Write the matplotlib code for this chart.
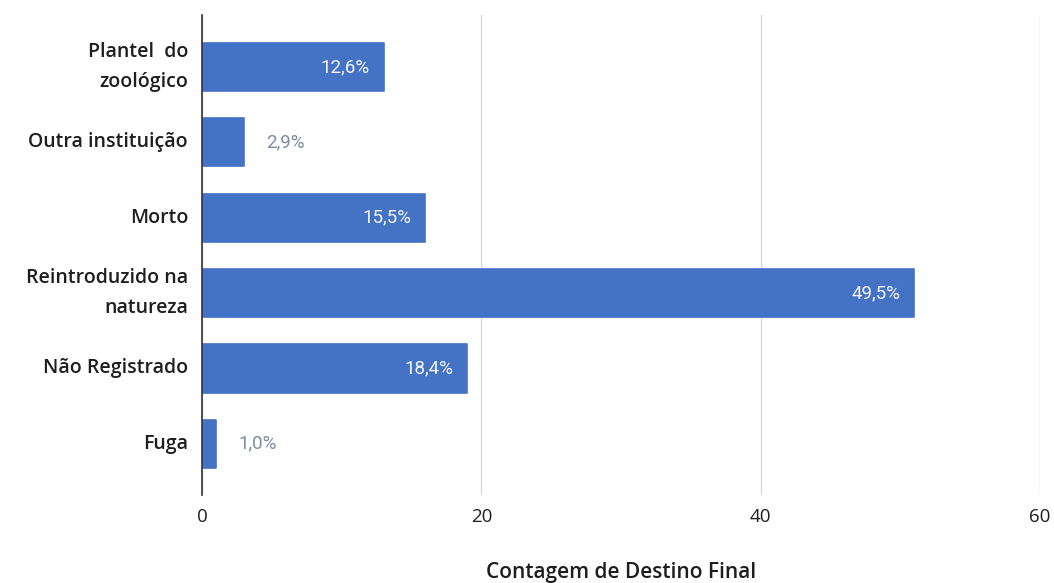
import matplotlib
matplotlib.use("Agg")
import matplotlib.pyplot as plt

categories = ["Plantel  do\nzoológico", "Outra instituição", "Morto",
              "Reintroduzido na\nnatureza", "Não Registrado", "Fuga"]
counts = [13, 3, 16, 51, 19, 1]
percent_labels = ["12,6%", "2,9%", "15,5%", "49,5%", "18,4%", "1,0%"]
xticks = [0, 20, 40, 60]

bar_color = "#4472C4"

fig = plt.figure(figsize=(10.54, 5.83), dpi=100)
ax = fig.add_axes([202 / 1054, 1 - 495 / 583, (1040 - 202) / 1054, (495 - 15) / 583])

y = list(range(len(categories)))
ax.barh(y, counts, height=0.64, color=bar_color, edgecolor=bar_color,
        linewidth=1.2, joinstyle="round", zorder=3)

ax.set_xlim(0, 60)
ax.set_ylim(len(categories) - 1 + 0.68, -0.69)

ax.set_yticks(y)
ax.set_yticklabels(categories, fontsize=14, color="#1e1e1e",
                   family="Open Sans", fontweight="semibold", linespacing=1.65,
                   va="center")
ax.tick_params(axis="y", length=0, pad=10)

ax.set_xticks(xticks)
ax.set_xticklabels([str(t) for t in xticks], fontsize=13.5, color="#1e1e1e",
                   family="Open Sans")
ax.tick_params(axis="x", length=0, pad=9)

ax.grid(axis="x", color="#d9d9d9", linewidth=1, zorder=0)
for side in ("top", "right", "bottom"):
    ax.spines[side].set_visible(False)
ax.spines["left"].set_color("#333333")
ax.spines["left"].set_linewidth(1.2)
ax.spines["left"].set_zorder(4)

ax.set_xlabel("Contagem de Destino Final", fontsize=15, color="#1e1e1e",
              family="Open Sans", fontweight="semibold", labelpad=26)

# value labels: inside long bars, beside short ones
for yi, c, lab in zip(y, counts, percent_labels):
    if c >= 10:
        ax.annotate(lab, (c, yi), xytext=(-10, 0), textcoords="offset points",
                    ha="right", va="center", fontsize=13.5, color="#f2f5fb",
                    family="Roboto", zorder=5)
    else:
        ax.annotate(lab, (c, yi), xytext=(16, 0), textcoords="offset points",
                    ha="left", va="center", fontsize=13.5, color="#7b8ba5",
                    family="Roboto", zorder=5)

fig.savefig("out.png", dpi=100, facecolor="white")
